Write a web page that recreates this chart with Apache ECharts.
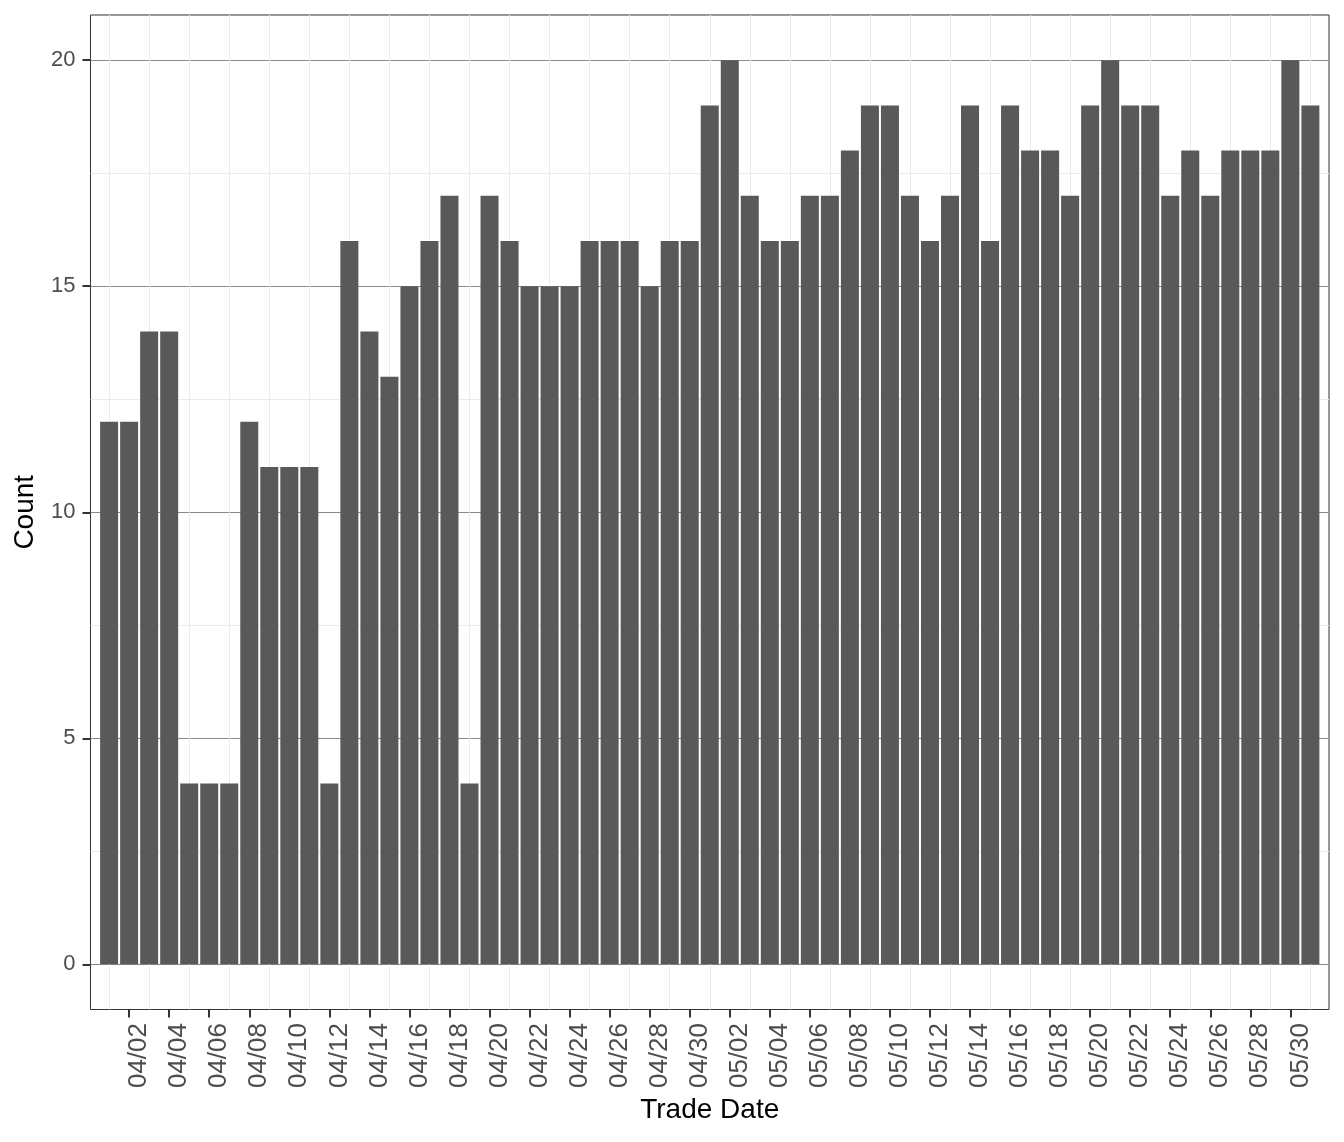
<!DOCTYPE html>
<html>
<head>
<meta charset="utf-8">
<title>Trade Date count</title>
<script src="https://cdn.jsdelivr.net/npm/echarts@6/dist/echarts.min.js"></script>
<style>
html, body { margin: 0; padding: 0; background: #fff; }
#main { width: 1344px; height: 1142px; }
</style>
</head>
<body>
<div id="main"></div>
<script>
// trade dates (one bar per day)
var dates = [
    '04/01', '04/02', '04/03', '04/04', '04/05', '04/06', '04/07', '04/08', '04/09', '04/10',
    '04/11', '04/12', '04/13', '04/14', '04/15', '04/16', '04/17', '04/18', '04/19', '04/20',
    '04/21', '04/22', '04/23', '04/24', '04/25', '04/26', '04/27', '04/28', '04/29', '04/30',
    '05/01', '05/02', '05/03', '05/04', '05/05', '05/06', '05/07', '05/08', '05/09', '05/10',
    '05/11', '05/12', '05/13', '05/14', '05/15', '05/16', '05/17', '05/18', '05/19', '05/20',
    '05/21', '05/22', '05/23', '05/24', '05/25', '05/26', '05/27', '05/28', '05/29', '05/30',
    '05/31'
];
var counts = [
    12, 12, 14, 14, 4, 4, 4, 12, 11, 11,
    11, 4, 16, 14, 13, 15, 16, 17, 4, 17,
    16, 15, 15, 15, 16, 16, 16, 15, 16, 16,
    19, 20, 17, 16, 16, 17, 17, 18, 19, 19,
    17, 16, 17, 19, 16, 19, 18, 18, 17, 19,
    20, 19, 19, 17, 18, 17, 18, 18, 18, 20,
    19
];
var yBreaks = [0, 5, 10, 15, 20];
var yMinorBreaks = [0, 2.5, 5, 7.5, 10, 12.5, 15, 17.5, 20];

// labelled dates every 2 days (04/02, 04/04, ...), minor grid on the days between
var xBreaks = [];
var xMinorBreaks = [];
dates.forEach(function(d, i) {
    if (i % 2 === 1) xBreaks.push(i); else xMinorBreaks.push(i);
});

var barData = counts.map(function(v, i) { return [i, v]; });

var font = 'Liberation Sans, Arial, Helvetica, sans-serif';
var xMin = -0.93, xMax = dates.length - 1 + 0.93;

var myChart = echarts.init(document.getElementById('main'));

var option = {
    animation: false,
    backgroundColor: '#ffffff',
    grid: {
        left: 90.5,
        right: 15,
        top: 15,
        bottom: 132.5,
        containLabel: false,
        show: true,
        borderColor: '#333333',
        borderWidth: 1,
        backgroundColor: '#ffffff'
    },
    xAxis: [{
        type: 'value',
        min: xMin,
        max: xMax,
        position: 'bottom',
        name: 'Trade Date',
        nameLocation: 'middle',
        nameGap: 85,
        nameTextStyle: { color: '#000000', fontSize: 28, fontFamily: font },
        axisLine: { show: false, onZero: false },
        axisTick: { show: true, customValues: xBreaks, length: 8, lineStyle: { color: '#333333', width: 2 } },
        axisLabel: {
            customValues: xBreaks,
            rotate: 90,
            margin: 13.5,
            verticalAlign: 'top',
            lineHeight: 20,
            color: '#4d4d4d',
            fontSize: 26,
            fontFamily: font,
            formatter: function(v) { return dates[Math.round(v)]; }
        },
        splitLine: { show: false }
    }, {
        type: 'value',
        min: xMin,
        max: xMax,
        position: 'bottom',
        axisLine: { show: false, onZero: false },
        axisTick: { show: false, customValues: xMinorBreaks },
        axisLabel: { show: false },
        splitLine: { show: true, lineStyle: { color: '#ebebeb', width: 1 } }
    }],
    yAxis: [{
        type: 'value',
        min: -1,
        max: 21,
        position: 'left',
        name: 'Count',
        nameLocation: 'middle',
        nameGap: 51,
        nameTextStyle: { color: '#000000', fontSize: 28, fontFamily: font },
        axisLine: { show: false, onZero: false },
        axisTick: { show: true, customValues: yBreaks, length: 8, lineStyle: { color: '#333333', width: 2 } },
        axisLabel: {
            customValues: yBreaks,
            margin: 15,
            color: '#4d4d4d',
            fontSize: 22,
            fontFamily: font
        },
        splitLine: { show: false }
    }, {
        type: 'value',
        min: -1,
        max: 21,
        position: 'left',
        axisLine: { show: false, onZero: false },
        axisTick: { show: false, customValues: yMinorBreaks },
        axisLabel: { show: false },
        splitLine: { show: true, lineStyle: { color: ['#8a8a8a', '#ebebeb'], width: 1 } }
    }],
    series: [{
        type: 'bar',
        name: 'Count',
        xAxisIndex: 0,
        yAxisIndex: 0,
        barWidth: 18,
        itemStyle: { color: '#595959' },
        data: barData
    }]
};

myChart.setOption(option);
</script>
</body>
</html>
